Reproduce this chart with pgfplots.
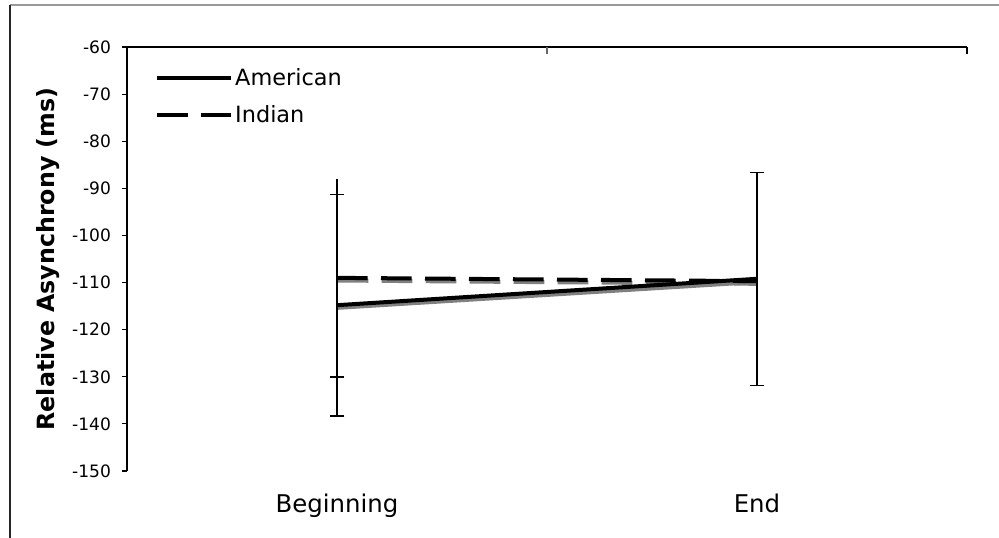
\documentclass[border=0pt]{standalone}
\usepackage{pgfplots}
\pgfplotsset{compat=1.18}
\usepackage{fontspec}
\setmainfont{DejaVu Sans}
\definecolor{shadow}{RGB}{128,128,128}
\begin{document}
\begin{tikzpicture}
\useasboundingbox (0,0) rectangle (749.25pt,-402.75pt);
\begin{axis}[
  at={(95.25pt,-353.25pt)}, anchor=south west,
  scale only axis, width=630pt, height=318pt,
  xmin=-0.5, xmax=1.5, ymin=-150, ymax=-60,
  axis x line*=bottom, axis y line*=left,
  x axis line style={draw=none},
  xtick={0,1}, xticklabels={Beginning,End},
  xtick style={draw=none}, xtick align=inside,
  every x tick label/.append style={font=\fontsize{18.3}{21}\selectfont, yshift=-13.5pt},
  ytick={-150,-140,-130,-120,-110,-100,-90,-80,-70,-60},
  yticklabels={-150,-140,-130,-120,-110,-100,-90,-80,-70,-60},
  ytick align=outside, major tick length=3.75pt,
  ytick style={black, line width=0.8pt},
  y axis line style={black, line width=0.8pt},
  every y tick label/.append style={font=\fontsize{12.8}{15}\selectfont, xshift=-4.8pt},
  ylabel={Relative Asynchrony (ms)},
  ylabel style={at={(axis description cs:-0.0935,0.5)}, anchor=center, font=\bfseries\fontsize{17.8}{20}\selectfont},
  clip=false,
  legend style={draw=none, fill=none, at={(axis description cs:0.0333,0.950)}, anchor=north west,
    font=\fontsize{16.8}{19}\selectfont, row sep=13.5pt, inner sep=0pt, nodes={inner xsep=2pt, inner ysep=0pt}},
  legend cell align=left,
  legend image code/.code={\draw[#1] (0pt,0pt) -- (55pt,0pt);},
]
% shadows
\addplot[shadow, line width=3pt, forget plot, transform canvas={xshift=0.5pt,yshift=-2pt}] coordinates {(0,-114.8) (1,-109.3)};
\addplot[shadow, line width=3pt, dash pattern=on 23pt off 10pt, forget plot, transform canvas={xshift=0.5pt,yshift=-2pt}] coordinates {(0,-109.0) (1,-109.7)};
% American
\addplot[black, line width=3pt, mark=none,
  error bars/.cd, y dir=both, y explicit,
  error bar style={line width=1.1pt, solid},
  error mark options={rotate=90, mark size=5.5pt, line width=1.1pt, solid}]
  coordinates {(0,-114.8) +- (0,23.5) (1,-109.2) +- (0,22.6)};
% Indian
\addplot[black, line width=3pt, mark=none, dash pattern=on 23pt off 10pt] coordinates {(0,-109.0) (1,-109.7)};
\addplot[draw=none, mark=none, forget plot,
  error bars/.cd, y dir=plus, y explicit, error mark=none,
  error bar style={draw=black, line width=1.1pt, solid}]
  coordinates {(0,-109.0) +- (0,21)};
\addplot[draw=none, mark=none, forget plot,
  error bars/.cd, y dir=minus, y explicit,
  error bar style={draw=black, line width=1.1pt, solid},
  error mark options={rotate=90, draw=black, mark size=5.5pt, line width=1.1pt, solid}]
  coordinates {(0,-109.0) +- (0,21)};
\legend{American,Indian}
\draw[black, line width=0.8pt] (axis cs:-0.5,-60) -- (axis cs:1.5,-60);
\draw[black!60, line width=0.8pt] (axis cs:0.5,-60) -- ++(0pt,-5.25pt);
\draw[black, line width=0.8pt] (axis cs:1.5,-60) -- ++(0pt,-5.25pt);
\end{axis}
\draw[black!40, line width=1.2pt] (7.5pt,-3.75pt) -- (760pt,-3.75pt);
\draw[black!85, line width=1pt] (7.5pt,-3.75pt) -- (7.5pt,-410pt);
\end{tikzpicture}
\end{document}
